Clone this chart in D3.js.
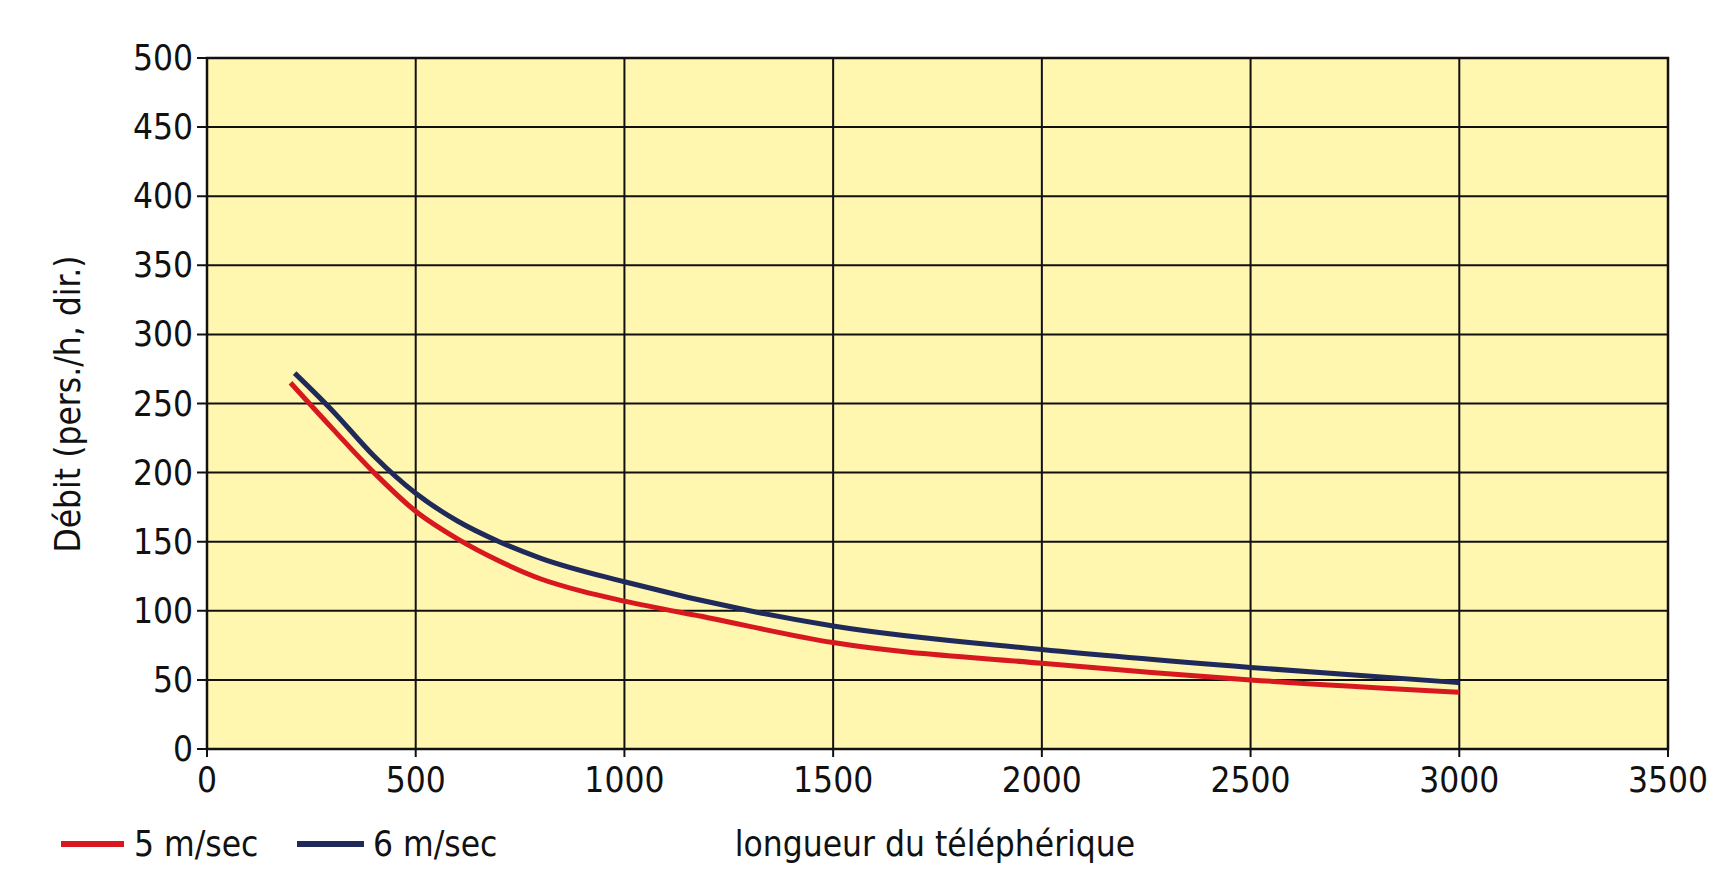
<!DOCTYPE html><html><head><meta charset="utf-8">
<script src="https://cdn.jsdelivr.net/npm/d3@7"></script>
<style>body{margin:0;background:#fff}text{font-family:"DejaVu Sans Condensed","Liberation Sans Narrow","Roboto",sans-serif;font-stretch:condensed}</style></head><body>
<svg id="c" width="1731" height="896"></svg>
<script>
const xTicks=[0,500,1000,1500,2000,2500,3000,3500];
const yTicks=[0,50,100,150,200,250,300,350,400,450,500];
const redX=[200,300,400,500,600,700,800,900,1000,1200,1500,2000,2500,3000];
const redY=[265,232,200,172,152,136,123,114,107,95,77,62,50,41];
const blueX=[210,300,400,500,600,700,800,1000,1300,1500,2000,2500,3000];
const blueY=[272,245,212,185,165,150,138,121,100,89,72,59,48];
const svg=d3.select("#c");
const L=207,R=1668,T=58,B=749;
const x=d3.scaleLinear().domain([0,3500]).range([L,R]);
const y=d3.scaleLinear().domain([0,500]).range([B,T]);
svg.append("rect").attr("x",L).attr("y",T).attr("width",R-L).attr("height",B-T).attr("fill","#fff6b0");
const g=svg.append("g");
yTicks.forEach(v=>g.append("line").attr("x1",L-10).attr("x2",R).attr("y1",y(v)).attr("y2",y(v)).attr("stroke","#111").attr("stroke-width",2));
xTicks.forEach(v=>g.append("line").attr("x1",x(v)).attr("x2",x(v)).attr("y1",T).attr("y2",B+8).attr("stroke","#111").attr("stroke-width",2));
svg.append("rect").attr("x",L).attr("y",T).attr("width",R-L).attr("height",B-T).attr("fill","none").attr("stroke","#111").attr("stroke-width",2.5);
yTicks.forEach(v=>svg.append("text").attr("x",L-14).attr("y",y(v)+12).attr("text-anchor","end").attr("font-size",35).attr("fill","#111").text(v));
xTicks.forEach(v=>svg.append("text").attr("x",x(v)).attr("y",792).attr("text-anchor","middle").attr("font-size",35).attr("fill","#111").text(v));
const line=d3.line().curve(d3.curveMonotoneX);
svg.append("path").attr("d",line(redX.map((d,i)=>[x(d),y(redY[i])]))).attr("fill","none").attr("stroke","#d7191f").attr("stroke-width",5);
svg.append("path").attr("d",line(blueX.map((d,i)=>[x(d),y(blueY[i])]))).attr("fill","none").attr("stroke","#1f2a5a").attr("stroke-width",5);
svg.append("text").attr("transform","translate(80,404) rotate(-90)").attr("text-anchor","middle").attr("font-size",35).attr("fill","#111").text("Débit (pers./h, dir.)");
svg.append("line").attr("x1",61).attr("x2",124).attr("y1",844).attr("y2",844).attr("stroke","#d7191f").attr("stroke-width",6);
svg.append("text").attr("x",134).attr("y",856).attr("font-size",35).attr("fill","#111").text("5 m/sec");
svg.append("line").attr("x1",297).attr("x2",364).attr("y1",844).attr("y2",844).attr("stroke","#1f2a5a").attr("stroke-width",6);
svg.append("text").attr("x",373).attr("y",856).attr("font-size",35).attr("fill","#111").text("6 m/sec");
svg.append("text").attr("x",935).attr("y",856).attr("text-anchor","middle").attr("font-size",35).attr("fill","#111").text("longueur du téléphérique");
</script></body></html>
